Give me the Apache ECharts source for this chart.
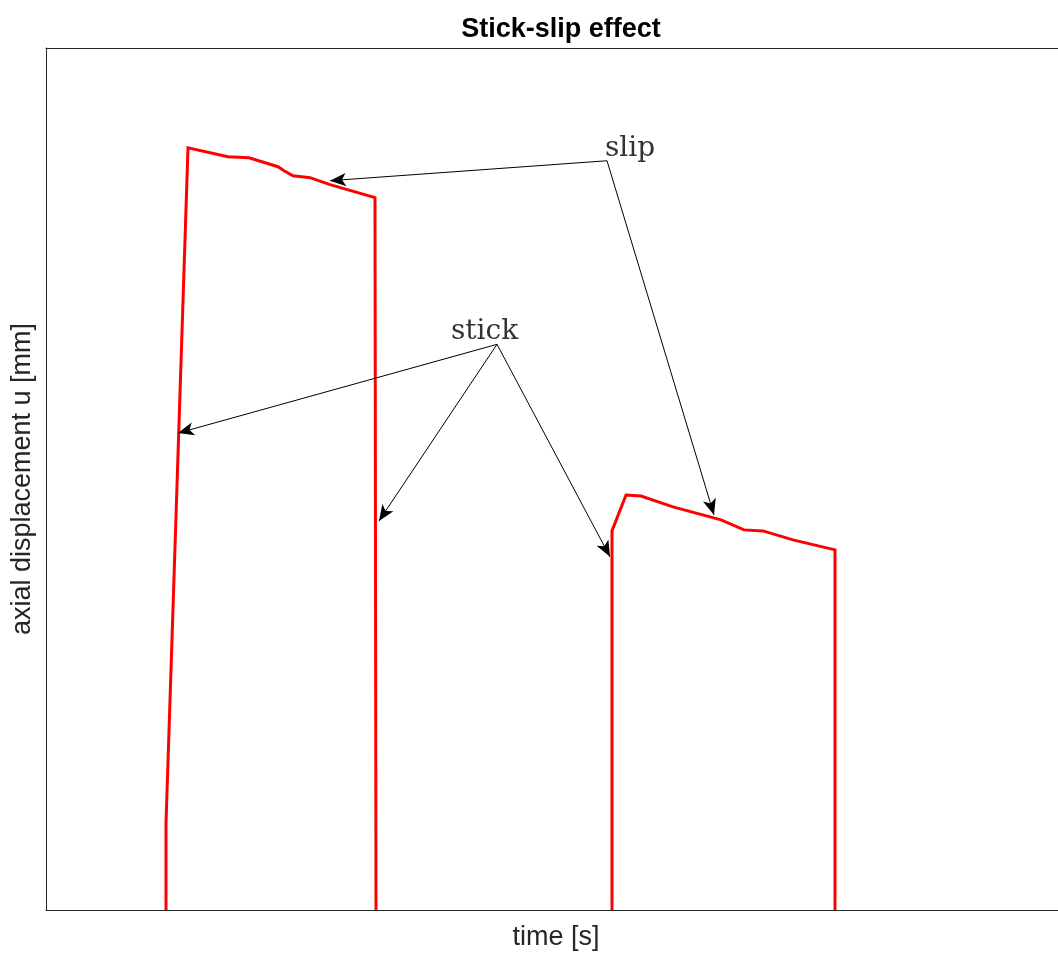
<!DOCTYPE html>
<html><head><meta charset="utf-8">
<script src="https://cdn.jsdelivr.net/npm/echarts@6/dist/echarts.min.js"></script>
<style>html,body{margin:0;padding:0;background:#fff}#c{width:1058px;height:956px}</style>
</head><body><div id="c"></div>
<script>
// time (arbitrary units, no ticks shown) and displacement (arbitrary units)
const timeVals = [120, 120, 142, 182, 203, 232, 238, 247, 264, 284, 329, 330, null, 566, 566, 580, 595, 627, 675, 698, 717, 747, 789, 789];
const dispVals = [0, 87, 764, 755, 754, 745, 741, 736, 734, 727, 714, 0, null, 0, 380, 416, 415, 404, 391, 381, 380, 371, 361, 0];
const annotTexts = ['slip', 'stick'];
const annotPos = [[559, 763], [405, 580]];
const slipArrows = [[[561, 751], [284, 731]], [[561, 751], [668, 396]]];
const stickArrows = [[[451, 567], [132, 478]], [[451, 567], [333, 390]], [[451, 567], [564, 354]]];

const lineData = timeVals.map((t, i) => (t === null ? [null, null] : [t, dispVals[i]]));
const arrows = slipArrows.concat(stickArrows).map(a => [{coord: a[0]}, {coord: a[1]}]);

const axisCol = '#262626';
const chart = echarts.init(document.getElementById('c'));
chart.setOption({
  animation: false,
  title: {
    text: 'Stick-slip effect', left: 556, top: 11, textAlign: 'center',
    textStyle: {fontFamily: 'Liberation Sans', fontSize: 27, fontWeight: 'bold', color: '#000'}
  },
  grid: {left: 46, top: 48, right: 0, height: 864, show: false},
  xAxis: [{
    type: 'value', min: 0, max: 1012, position: 'bottom',
    name: 'time [s]', nameLocation: 'middle', nameGap: 14,
    nameTextStyle: {fontFamily: 'Liberation Sans', fontSize: 27, color: axisCol, padding: [0, 0, 0, 8]},
    axisLine: {show: true, onZero: false, lineStyle: {color: axisCol, width: 1}},
    axisTick: {show: false}, axisLabel: {show: false}, splitLine: {show: false}
  }, {
    type: 'value', min: 0, max: 1012, position: 'top',
    axisLine: {show: true, onZero: false, lineStyle: {color: axisCol, width: 1}},
    axisTick: {show: false}, axisLabel: {show: false}, splitLine: {show: false}
  }],
  yAxis: {
    type: 'value', min: 0, max: 864,
    name: 'axial displacement u [mm]', nameLocation: 'middle', nameGap: 10,
    nameTextStyle: {fontFamily: 'Liberation Sans', fontSize: 27, color: axisCol},
    axisLine: {show: true, onZero: false, lineStyle: {color: axisCol, width: 1}},
    axisTick: {show: false}, axisLabel: {show: false}, splitLine: {show: false}
  },
  series: [
    {
      type: 'line', data: lineData, showSymbol: false, connectNulls: false,
      lineStyle: {color: '#ff0000', width: 3, join: 'miter'},
      markLine: {
        silent: true, symbol: ['none', 'arrow'], symbolSize: [10, 16],
        lineStyle: {color: '#000', width: 1, type: 'solid'},
        label: {show: false}, emphasis: {disabled: true},
        data: arrows
      }
    },
    {
      type: 'scatter', symbolSize: 0, silent: true,
      data: annotPos.map((p, i) => ({value: p, name: annotTexts[i]})),
      label: {
        show: true, formatter: p => p.name, position: 'inside', align: 'left', verticalAlign: 'middle',
        fontFamily: 'DejaVu Serif', fontSize: 28, color: '#000'
      }
    }
  ]
});
</script></body></html>
